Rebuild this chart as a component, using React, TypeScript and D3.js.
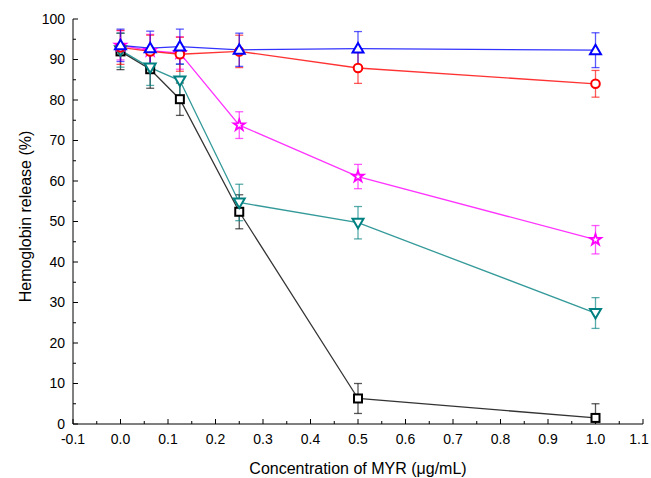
import React from "react";
import * as d3 from "d3";

const concentrations = [0, 0.0625, 0.125, 0.25, 0.5, 1.0];

// mean values (%) and error (SD) per series
const blueVals = [93.5, 92.8, 93.2, 92.4, 92.7, 92.3];
const blueErr = [4.0, 4.2, 4.3, 4.1, 4.2, 4.3];
const redVals = [93.0, 92.0, 91.3, 92.0, 87.9, 84.0];
const redErr = [4.2, 4.0, 4.2, 4.0, 3.8, 3.3];
const magentaVals = [93.5, 92.2, 91.6, 73.8, 61.1, 45.5];
const magentaErr = [3.6, 4.0, 4.0, 3.3, 3.0, 3.5];
const tealVals = [92.3, 88.0, 84.8, 54.7, 49.7, 27.4];
const tealErr = [4.2, 4.4, 4.0, 4.5, 4.0, 3.8];
const blackVals = [92.0, 87.6, 80.2, 52.4, 6.3, 1.5];
const blackErr = [4.5, 4.7, 4.0, 4.2, 3.7, 3.5];

const xTicks = [-0.1, 0, 0.1, 0.2, 0.3, 0.4, 0.5, 0.6, 0.7, 0.8, 0.9, 1.0, 1.1];
const yTicks = [0, 10, 20, 30, 40, 50, 60, 70, 80, 90, 100];

type Series = { name: string; color: string; shape: string; vals: number[]; err: number[] };

const series: Series[] = [
  { name: "black", color: "#000000", shape: "square", vals: blackVals, err: blackErr },
  { name: "teal", color: "#008080", shape: "down", vals: tealVals, err: tealErr },
  { name: "magenta", color: "#FF00FF", shape: "star", vals: magentaVals, err: magentaErr },
  { name: "red", color: "#FF0000", shape: "circle", vals: redVals, err: redErr },
  { name: "blue", color: "#0000FF", shape: "up", vals: blueVals, err: blueErr },
];

const W = 651;
const H = 478;
const left = 73, right = 643, top = 19, bottom = 424;

const x = d3.scaleLinear().domain([-0.1, 1.1]).range([left, right]);
const y = d3.scaleLinear().domain([0, 100]).range([bottom, top]);

const font = "Arial, 'Liberation Sans', sans-serif";

const Marker = ({ shape, cx, cy, color }: { shape: string; cx: number; cy: number; color: string }) => {
  const sw = 2;
  if (shape === "square") {
    return <rect x={cx - 4} y={cy - 4} width={8} height={8} fill="white" stroke={color} strokeWidth={sw} />;
  }
  if (shape === "circle") {
    return <circle cx={cx} cy={cy} r={4.3} fill="white" stroke={color} strokeWidth={sw} />;
  }
  if (shape === "up") {
    return (
      <path
        d={`M${cx},${cy - 5.5}L${cx + 5.5},${cy + 4}L${cx - 5.5},${cy + 4}Z`}
        fill="white" stroke={color} strokeWidth={sw}
      />
    );
  }
  if (shape === "down") {
    return (
      <path
        d={`M${cx},${cy + 5.5}L${cx + 5.5},${cy - 4}L${cx - 5.5},${cy - 4}Z`}
        fill="white" stroke={color} strokeWidth={sw}
      />
    );
  }
  // star
  const star = d3.symbol().type(d3.symbolStar).size(38)();
  return <path d={star || ""} transform={`translate(${cx},${cy})`} fill="white" stroke={color} strokeWidth={1.8} />;
};

const App = () => {
  const line = d3
    .line<number>()
    .x((_, i) => x(concentrations[i]))
    .y((d) => y(d));

  const minorX = d3.range(-0.05, 1.1, 0.1);
  const minorY = d3.range(5, 100, 10);

  return (
    <svg width={W} height={H} style={{ position: "absolute", left: 0, top: 0, background: "white" }}>
      <defs>
        <clipPath id="plot">
          <rect x={left} y={0} width={right - left + 10} height={bottom} />
        </clipPath>
      </defs>

      {/* axes */}
      <line x1={left} x2={left} y1={top} y2={bottom} stroke="#000" strokeWidth={1} />
      <line x1={left} x2={right} y1={bottom} y2={bottom} stroke="#000" strokeWidth={1} />

      {yTicks.map((t) => (
        <g key={"yt" + t}>
          <line x1={left} x2={left + 5} y1={y(t)} y2={y(t)} stroke="#000" />
          <text x={left - 8} y={y(t)} dy="0.35em" textAnchor="end" fontFamily={font} fontSize={14}>
            {t}
          </text>
        </g>
      ))}
      {minorY.map((t) => (
        <line key={"ym" + t} x1={left} x2={left + 3} y1={y(t)} y2={y(t)} stroke="#000" />
      ))}

      {xTicks.map((t) => (
        <g key={"xt" + t}>
          <line x1={x(t)} x2={x(t)} y1={bottom} y2={bottom - 5} stroke="#000" />
          <text x={Math.min(x(t), 639)} y={444} textAnchor="middle" fontFamily={font} fontSize={14}>
            {d3.format(".1f")(t).replace("−", "-")}
          </text>
        </g>
      ))}
      {minorX.map((t) => (
        <line key={"xm" + t.toFixed(2)} x1={x(t)} x2={x(t)} y1={bottom} y2={bottom - 3} stroke="#000" />
      ))}

      <text x={(left + right) / 2} y={474} textAnchor="middle" fontFamily={font} fontSize={16}>
        Concentration of MYR (μg/mL)
      </text>
      <text
        transform={`translate(31,${(top + bottom) / 2 - 5}) rotate(-90)`}
        textAnchor="middle"
        fontFamily={font}
        fontSize={16}
      >
        Hemoglobin release (%)
      </text>

      {/* series */}
      <g clipPath="url(#plot)">
        {series.map((s) => (
          <g key={s.name}>
            <path d={line(s.vals) || ""} fill="none" stroke={s.color} strokeOpacity={0.8} strokeWidth={1.3} />
            {s.vals.map((v, i) => {
              const cx = x(concentrations[i]);
              const y1 = y(v + s.err[i]);
              const y2 = y(v - s.err[i]);
              return (
                <g key={i} stroke={s.color} strokeOpacity={0.65} strokeWidth={1.3}>
                  <line x1={cx} x2={cx} y1={y1} y2={y2} />
                  <line x1={cx - 4} x2={cx + 4} y1={y1} y2={y1} />
                  <line x1={cx - 4} x2={cx + 4} y1={y2} y2={y2} />
                </g>
              );
            })}
          </g>
        ))}
        {series.map((s) =>
          s.vals.map((v, i) => (
            <Marker key={s.name + i} shape={s.shape} cx={x(concentrations[i])} cy={y(v)} color={s.color} />
          ))
        )}
      </g>
    </svg>
  );
};

export default App;
